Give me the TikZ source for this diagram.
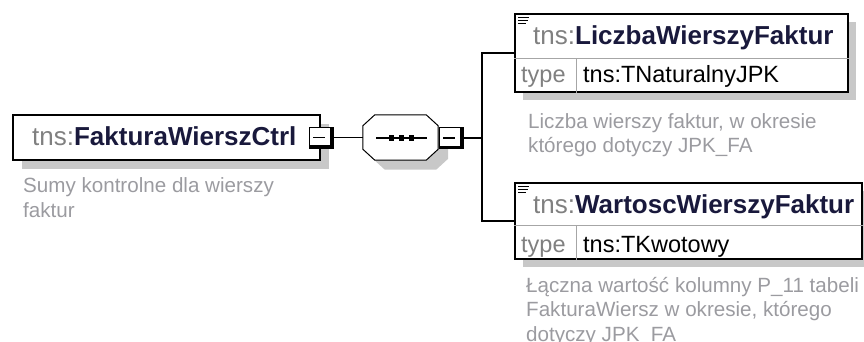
\documentclass[tikz,border=0pt]{standalone}
\usepackage{fontspec}
\setmainfont{Liberation Sans}
\definecolor{nsgray}{RGB}{128,128,128}
\definecolor{namecol}{RGB}{25,25,60}
\definecolor{doccol}{RGB}{155,155,160}
\definecolor{shadowcol}{RGB}{200,200,200}
\newcommand{\nsp}[1]{{\color{nsgray}#1}}
\newcommand{\elname}[1]{{\color{namecol}\bfseries #1}}
\newcommand{\listicon}[1]{\foreach \d/\l in {4/11,7/10,10/8} \draw[line width=1.1pt] ([xshift=4pt,yshift=-\d pt]#1.north west) -- ++(\l,0);}
\newcommand{\octpath}[1]{([xshift=12pt]#1.north west) -- ([xshift=-12pt]#1.north east) -- ([yshift=-11pt]#1.north east) -- ([yshift=11pt]#1.south east) -- ([xshift=-12pt]#1.south east) -- ([xshift=12pt]#1.south west) -- ([yshift=11pt]#1.south west) -- ([yshift=-11pt]#1.north west) -- cycle}
\tikzset{
  elembox/.style={draw=black, line width=1.4pt, fill=white, rectangle, inner sep=0pt},
  seqshape/.style={rectangle, inner sep=0pt, minimum width=75, minimum height=45},
  fold/.style={draw=black, fill=white, line width=0.9pt, inner sep=0pt, minimum width=24, minimum height=21,
    path picture={\draw[line width=6pt] (path picture bounding box.north east) -- (path picture bounding box.south east) -- (path picture bounding box.south west);
      \draw[line width=1.3pt] ([xshift=-8pt]path picture bounding box.center) -- ([xshift=4pt]path picture bounding box.center);}},
  sep/.style={draw=gray!70, line width=0.8pt},
  wire/.style={line width=1.4pt},
  title/.style={anchor=base west, inner sep=0pt, font=\fontsize{26}{30}\selectfont},
  typetxt/.style={anchor=base west, inner sep=0pt, font=\fontsize{23.5}{28}\selectfont},
  doc/.style={anchor=base west, inner sep=0pt, align=left, text=doccol, font=\fontsize{20.6}{24.5}\selectfont}
}
\begin{document}
\begin{tikzpicture}[x=1pt,y=-1pt]
	\useasboundingbox (0,0) rectangle (864,342);
	\fill[shadowcol] (22,124) rectangle (329,169);
	\fill[shadowcol] (523,22) rectangle (856,100);
	\fill[shadowcol] (523,191) rectangle (870,267);
	\node[seqshape] (seqsh) at (410.5,147) {};
	\fill[shadowcol] \octpath{seqsh};

	\node[elembox, line width=1.6pt, minimum width=307, minimum height=45] (ctrl) at (166.5,137.5) {};
	\node[seqshape] (seq) at (400.5,137.5) {};
	\draw[line width=1pt, fill=white] \octpath{seq};
	\node[fold] (ctrlfold) at (321,137.5) {};
	\node[fold] (seqfold) at (451,138) {};
	\draw[line width=1.2pt] (376,138) -- (427,138);
	\foreach \x in {391,401,411} \fill (\x-2.5,135) rectangle (\x+2.5,141);

	\node[elembox, minimum width=333, minimum height=78] (lwf) at (681.5,53) {};
	\draw[sep] ([yshift=-45]lwf.north west) -- ([yshift=-45]lwf.north east);
	\draw[sep] ([xshift=62,yshift=-45]lwf.north west) -- ([xshift=62]lwf.south west);
	\listicon{lwf}
	\node[elembox, minimum width=347, minimum height=76] (wwf) at (688.5,221) {};
	\draw[sep] ([yshift=-43]wwf.north west) -- ([yshift=-43]wwf.north east);
	\draw[sep] ([xshift=62,yshift=-43]wwf.north west) -- ([xshift=62]wwf.south west);
	\listicon{wwf}

	\coordinate (split) at (482,138);
	\draw[wire] (ctrlfold.east) -- (seq.west);
	\draw[wire] (seqfold.east) -- (split);
	\draw[wire] (lwf.west) -| (split) |- (wwf.west);

	\node[title] (ctrltxt) at (32,146) {\nsp{tns:}\elname{FakturaWierszCtrl}};
	\node[doc] (ctrldoc) at (23,217) {Sumy kontrolne dla wierszy\\faktur};

	\node[title] (lwftxt) at (533,45) {\nsp{tns:}\elname{LiczbaWierszyFaktur}};
	\node[typetxt, text=nsgray] (lwftype) at (521,83) {type};
	\node[typetxt] (lwfval) at (583,83) {tns:TNaturalnyJPK};
	\node[doc] (lwfdoc) at (528,153) {Liczba wierszy faktur, w okresie\\którego dotyczy JPK\_FA};

	\node[title] (wwftxt) at (533,213) {\nsp{tns:}\elname{WartoscWierszyFaktur}};
	\node[typetxt, text=nsgray] (wwftype) at (521,252) {type};
	\node[typetxt] (wwfval) at (583,252) {tns:TKwotowy};
	\node[doc] (wwfdoc) at (526,341) {Łączna wartość kolumny P\_11 tabeli\\FakturaWiersz w okresie, którego\\dotyczy JPK\_FA};
\end{tikzpicture}
\end{document}
